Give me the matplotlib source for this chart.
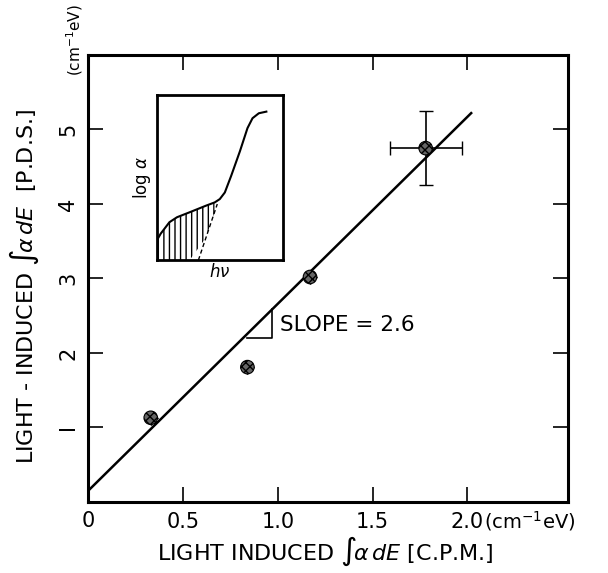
import numpy as np
import matplotlib
matplotlib.use("Agg")
import matplotlib.pyplot as plt

# measured data (C.P.M. vs P.D.S. light induced integrated absorption)
cpm = [0.33, 0.84, 1.17, 1.78]
pds = [1.13, 1.81, 3.02, 4.75]
cpm_err = [0, 0, 0, 0.19]
pds_err = [0, 0, 0, 0.5]

# fitted line end points
fit_x = [0.0, 2.02]
fit_y = [0.15, 5.22]

# inset sketch: log(alpha) vs h*nu
inset_x = [0.0, 0.03, 0.06, 0.10, 0.16, 0.26, 0.39, 0.46, 0.50, 0.54, 0.59, 0.66, 0.72, 0.76, 0.81, 0.87]
inset_y = [0.12, 0.16, 0.19, 0.23, 0.26, 0.29, 0.33, 0.35, 0.37, 0.41, 0.51, 0.66, 0.80, 0.86, 0.89, 0.90]
extrap_x = [0.33, 0.48]
extrap_y = [0.0, 0.34]

xticks = [0.5, 1.0, 1.5, 2.0]
xtick_labels = ["0.5", "1.0", "1.5", "2.0"]
yticks = [1, 2, 3, 4, 5]
ytick_labels = ["I", "2", "3", "4", "5"]

plt.rcParams['font.family'] = ['DejaVu Sans']

fig = plt.figure(figsize=(6.08, 5.73), dpi=100)
ax = fig.add_axes([0.145, 0.124, 0.789, 0.780])

ax.plot(fit_x, fit_y, color='black', lw=1.8)
ax.errorbar(cpm, pds, xerr=cpm_err, yerr=pds_err, fmt='none', ecolor='black',
            elinewidth=1.2, capsize=5)
ax.scatter(cpm, pds, s=95, facecolor='#666666', edgecolor='black', hatch='xxxx',
           linewidth=0.8, zorder=3)

# slope triangle
tx0, tx1 = 0.84, 0.97
ty0 = fit_y[0] + (fit_y[1] - fit_y[0]) / fit_x[1] * tx0 - 0.06
ty1 = fit_y[0] + (fit_y[1] - fit_y[0]) / fit_x[1] * tx1
ax.plot([tx0, tx1, tx1], [ty0, ty0, ty1], color='black', lw=1.2)
ax.text(1.01, 2.38, "SLOPE = 2.6", fontsize=15.5, va='center', ha='left')

ax.set_xlim(0, 2.53)
ax.set_ylim(0, 6.0)
ax.set_xticks(xticks)
ax.set_xticklabels(xtick_labels, fontsize=15)
ax.set_yticks(yticks)
ax.set_yticklabels(ytick_labels, fontsize=15, rotation=90, va='center')
ax.tick_params(direction='in', length=11, width=1.2, top=True, right=True, pad=7)
for sp in ax.spines.values():
    sp.set_linewidth(2.2)

ax.text(0.0, -0.12, "0", fontsize=15, ha='center', va='top')
ax.text(2.09, -0.10, "(cm$^{-1}$eV)", fontsize=14, ha='left', va='top')

fig.text(0.535, 0.037, r"LIGHT INDUCED $\int\!\alpha\,dE$ [C.P.M.]", fontsize=16,
         ha='center', va='center')
fig.text(0.04, 0.50, r"LIGHT - INDUCED $\int\!\alpha\,dE$  [P.D.S.]", fontsize=16,
         ha='center', va='center', rotation=90)
fig.text(0.123, 0.993, "(cm$^{-1}$eV)", fontsize=11, ha='center', va='top',
         rotation=90)

# inset
ins = fig.add_axes([0.258, 0.546, 0.207, 0.288])
ins.plot(inset_x, inset_y, color='black', lw=1.5)
ins.plot(extrap_x, extrap_y, color='black', lw=1.0, ls=(0, (3, 2)))
fx = np.array(inset_x[:8])
fy = np.array(inset_y[:8])
lower = np.clip(np.interp(fx, extrap_x, extrap_y, left=0.0), 0, None)
ins.fill_between(fx, lower, fy, facecolor='none', edgecolor='black',
                 hatch='|||', linewidth=0)
ins.set_xlim(0, 1)
ins.set_ylim(0, 1)
ins.set_xticks([])
ins.set_yticks([])
for sp in ins.spines.values():
    sp.set_linewidth(2.0)
ins.set_xlabel(r"$h\nu$", fontsize=12, labelpad=2)
ins.set_ylabel(r"log $\alpha$", fontsize=12, labelpad=3)

fig.savefig("out.png", dpi=100)
